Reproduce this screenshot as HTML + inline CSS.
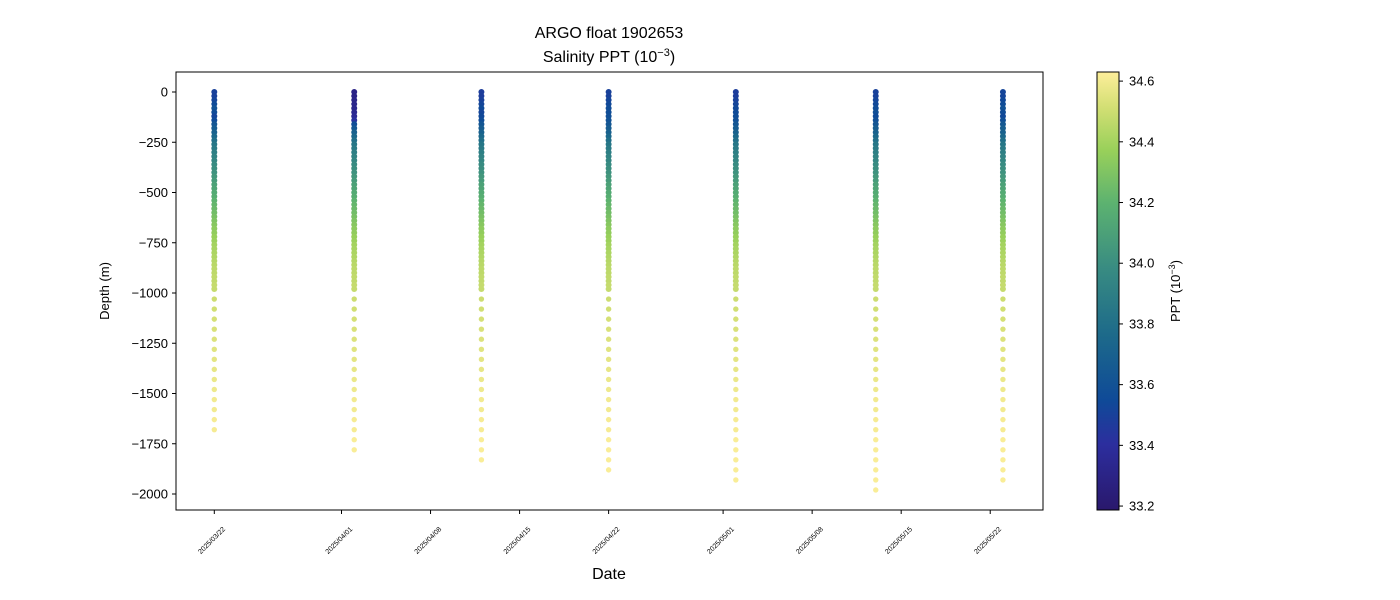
<!DOCTYPE html>
<html><head><meta charset="utf-8"><style>
html,body{margin:0;padding:0;background:#fff;}
svg{display:block;font-family:"Liberation Sans","DejaVu Sans",sans-serif;}
</style></head><body>
<svg id="chart" width="1400" height="600" viewBox="0 0 1400 600">
<defs>
<linearGradient id="cbgrad" x1="0" y1="1" x2="0" y2="0">
<stop offset="0" stop-color="#2a186c"/>
<stop offset="0.15" stop-color="#2c2e9e"/>
<stop offset="0.25" stop-color="#0f4a98"/>
<stop offset="0.4" stop-color="#1d6a8a"/>
<stop offset="0.55" stop-color="#388b82"/>
<stop offset="0.7" stop-color="#5cb270"/>
<stop offset="0.82" stop-color="#98d05a"/>
<stop offset="0.92" stop-color="#d3df74"/>
<stop offset="1" stop-color="#fdee9a"/>
</linearGradient>
</defs>
<text x="609" y="38" text-anchor="middle" font-size="16">ARGO float 1902653</text>
<text x="609" y="62" text-anchor="middle" font-size="16">Salinity PPT (10<tspan dy="-6" font-size="11">−3</tspan><tspan dy="6">)</tspan></text>
<g id="marks"></g>
<rect x="176" y="72" width="867" height="438" fill="none" stroke="#000" stroke-width="1"/>
<g id="yaxis"></g>
<g id="xaxis"></g>
<text transform="translate(109,291) rotate(-90)" text-anchor="middle" font-size="13">Depth (m)</text>
<text x="609" y="579" text-anchor="middle" font-size="16">Date</text>
<rect x="1097" y="72" width="22" height="438" fill="url(#cbgrad)" stroke="#000" stroke-width="1"/>
<g id="cbaxis"></g>
<text transform="translate(1180,291) rotate(-90)" text-anchor="middle" font-size="13">PPT (10<tspan dy="-5" font-size="9">−3</tspan><tspan dy="5">)</tspan></text>
</svg>
<script>
// ---- data ----
const profileDates = ["2025-03-22","2025-04-02","2025-04-12","2025-04-22","2025-05-02","2025-05-13","2025-05-23"];
const maxDepths = [1680,1780,1830,1880,1930,1980,1930];
const surfaceSal = [
 [33.5,33.5,33.52,33.55,33.6,33.56,33.52,33.55,33.62,33.66],
 [33.3,33.3,33.31,33.32,33.33,33.34,33.36,33.42,33.56,33.63],
 [33.48,33.48,33.5,33.52,33.55,33.52,33.54,33.57,33.62,33.67],
 [33.5,33.5,33.52,33.54,33.56,33.57,33.58,33.6,33.63,33.67],
 [33.48,33.48,33.5,33.52,33.54,33.55,33.56,33.58,33.62,33.66],
 [33.5,33.5,33.52,33.54,33.56,33.58,33.55,33.58,33.62,33.67],
 [33.52,33.52,33.54,33.56,33.6,33.56,33.54,33.58,33.64,33.68]
];
const midSal = [33.7,33.75,33.8,33.84,33.87,33.9,33.93,33.95,33.98,34.0,34.02,34.05,34.07,34.1,34.12,34.15,34.17,34.2,34.22,34.24,34.26,34.28,34.3,34.32,34.34,34.35,34.37,34.38,34.4,34.41,34.42,34.43,34.44,34.45,34.46,34.46,34.47,34.47,34.48,34.48];
const deepSal = [34.5,34.51,34.52,34.53,34.54,34.55,34.56,34.57,34.58,34.59,34.6,34.6,34.61,34.61,34.62,34.62,34.62,34.62,34.62,34.62];
const yTicks = [0,-250,-500,-750,-1000,-1250,-1500,-1750,-2000];
const xTickLabels = ["2025/03/22","2025/04/01","2025/04/08","2025/04/15","2025/04/22","2025/05/01","2025/05/08","2025/05/15","2025/05/22"];
const cbTicks = [33.2,33.4,33.6,33.8,34.0,34.2,34.4,34.6];

// ---- scales ----
const NS="http://www.w3.org/2000/svg";
const day0 = Date.UTC(2025,2,22);
function dayOf(s){const p=s.split(/[-\/]/).map(Number);return (Date.UTC(p[0],p[1]-1,p[2])-day0)/86400000;}
const xs = d => 214.3 + d*12.72;
const ys = v => 92 - v*0.201;
const vmin=33.187, vmax=34.63;
const cbY = v => 510 - (v-vmin)/(vmax-vmin)*438;
const cstops=[[0,"#2a186c"],[0.15,"#2c2e9e"],[0.25,"#0f4a98"],[0.4,"#1d6a8a"],[0.55,"#388b82"],[0.7,"#5cb270"],[0.82,"#98d05a"],[0.92,"#d3df74"],[1,"#fdee9a"]];
function hex(h){return [1,3,5].map(i=>parseInt(h.substr(i,2),16));}
function cmap(v){let t=Math.max(0,Math.min(1,(v-vmin)/(vmax-vmin)));
 for(let i=1;i<cstops.length;i++){if(t<=cstops[i][0]){const a=cstops[i-1],b=cstops[i];const f=(t-a[0])/(b[0]-a[0]);const ca=hex(a[1]),cb=hex(b[1]);return "rgb("+ca.map((c,k)=>Math.round(c+(cb[k]-c)*f)).join(",")+")";}}
 return cstops[cstops.length-1][1];}
function mk(tag,attrs,parent){const e=document.createElementNS(NS,tag);for(const k in attrs)e.setAttribute(k,attrs[k]);parent.appendChild(e);return e;}

// ---- points ----
const marks=document.getElementById('marks');
profileDates.forEach((ds,pi)=>{
 const x=xs(dayOf(ds));
 const g=mk('g',{},marks);
 
 
 const sal=surfaceSal[pi].concat(midSal);
 const pts=[];
 sal.forEach((s,i)=>pts.push([i*20,s]));
 deepSal.forEach((s,i)=>{const d=1030+i*50;if(d<=maxDepths[pi])pts.push([d,s]);});
 pts.forEach((p,i)=>{
  const c=mk('circle',{cx:x,cy:ys(-p[0]),r:(p[0]<1000?3:2.7),fill:cmap(p[1])},g);
  
  
 });
});

// ---- y axis ----
const ya=document.getElementById('yaxis');
yTicks.forEach(v=>{
 const y=ys(v);
 mk('line',{x1:172,x2:176,y1:y,y2:y,stroke:'#000'},ya);
 const t=mk('text',{x:168,y:y+4.5,'text-anchor':'end','font-size':13},ya);
 t.textContent=(v<0?'−':'')+Math.abs(v);
 
 
});

// ---- x axis ----
const xa=document.getElementById('xaxis');
xTickLabels.forEach(s=>{
 const x=xs(dayOf(s));
 mk('line',{x1:x,x2:x,y1:510,y2:514,stroke:'#000'},xa);
 const t=mk('text',{transform:'translate('+(x-1)+',542) rotate(-45)','text-anchor':'middle','font-size':7},xa);
 t.textContent=s;
 
 
});

// ---- colorbar axis ----
const ca=document.getElementById('cbaxis');
cbTicks.forEach(v=>{
 const y=cbY(v);
 mk('line',{x1:1119,x2:1123,y1:y,y2:y,stroke:'#000'},ca);
 const t=mk('text',{x:1129,y:y+4.5,'font-size':13},ca);
 t.textContent=v.toFixed(1);
 
 
});
</script>
</body></html>
